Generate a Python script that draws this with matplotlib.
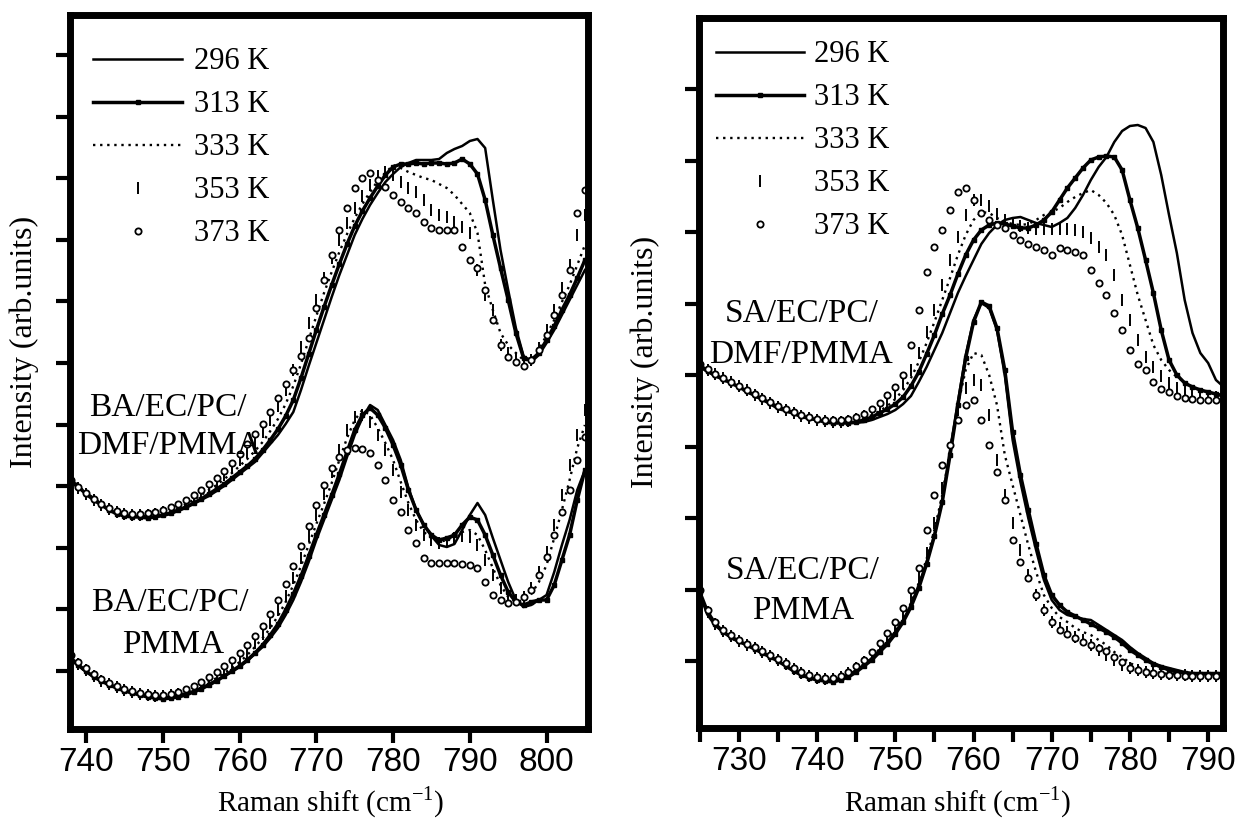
import numpy as np
import matplotlib
matplotlib.use("Agg")
import matplotlib.pyplot as plt
from matplotlib.lines import Line2D
from matplotlib.ticker import MultipleLocator, FixedLocator, NullFormatter

# ---------------- data ----------------
temps = ["296 K", "313 K", "333 K", "353 K", "373 K"]

# Left panel: Raman shift grid (cm-1)
x_left = list(range(738, 806))

# BA/EC/PC/DMF/PMMA (upper curve, left panel)
ba_dmf_296 = [318, 312, 307, 302, 296, 290, 287, 285, 284, 283, 283, 283, 284, 286, 289, 292, 296, 300, 304, 309,
              314, 320, 326, 332, 338, 347, 356, 365, 376, 388, 410, 434, 457, 480, 503, 525, 545, 565, 581, 595,
              607, 618, 626, 633, 637, 640, 640, 640, 641, 647, 651, 654, 659, 661, 652, 600, 550, 510, 472, 444,
              438, 445, 457, 470, 485, 500, 515, 530]
ba_dmf_313 = [320, 313, 306, 300, 295, 290, 286, 284, 283, 283, 282, 283, 285, 287, 290, 293, 297, 301, 306, 311,
              316, 322, 328, 334, 341, 350, 360, 371, 384, 400, 422, 446, 470, 493, 515, 536, 556, 574, 589, 602,
              614, 625, 633, 636, 636, 637, 636, 637, 637, 636, 637, 641, 636, 626, 600, 565, 532, 500, 467, 442,
              440, 447, 460, 474, 490, 505, 522, 540]
ba_dmf_333 = [322, 314, 307, 301, 295, 291, 287, 285, 284, 284, 284, 285, 287, 289, 292, 296, 300, 305, 310, 315,
              321, 327, 334, 341, 349, 358, 369, 381, 396, 414, 436, 460, 484, 507, 528, 548, 566, 582, 596, 608,
              619, 627, 635, 632, 628, 625, 622, 620, 616, 612, 605, 596, 587, 567, 515, 490, 467, 455, 447, 440,
              440, 450, 465, 480, 498, 515, 535, 555]
ba_dmf_353 = [318, 312, 306, 300, 295, 291, 288, 286, 285, 285, 285, 286, 288, 290, 293, 297, 302, 307, 312, 318,
              325, 332, 340, 348, 357, 368, 380, 394, 410, 430, 453, 477, 500, 522, 542, 560, 577, 592, 604, 615,
              624, 628, 625, 618, 612, 608, 600, 590, 585, 583, 578, 573, 567, 530, 505, 490, 455, 447, 442, 438,
              440, 452, 470, 490, 512, 535, 565, 585]
ba_dmf_373 = [320, 313, 307, 301, 296, 292, 289, 287, 286, 286, 287, 288, 290, 293, 296, 300, 305, 310, 316, 322,
              329, 337, 346, 356, 366, 376, 388, 402, 416, 430, 444, 462, 492, 520, 545, 570, 592, 612, 622, 627,
              620, 613, 605, 598, 592, 587, 578, 572, 570, 570, 570, 553, 540, 532, 510, 480, 455, 443, 438, 434,
              440, 450, 465, 485, 505, 530, 587, 610]

# BA/EC/PC/PMMA (lower curve, left panel)
ba_pmma_296 = [140, 134, 128, 123, 119, 116, 113, 110, 108, 106, 105, 104, 103, 103, 104, 106, 109, 112, 116, 120,
               124, 128, 133, 139, 146, 153, 162, 172, 185, 200, 218, 238, 260, 280, 300, 320, 343, 365, 382, 395,
               390, 375, 360, 340, 312, 290, 275, 264, 255, 253, 256, 270, 285, 297, 285, 262, 240, 218, 200, 193,
               195, 200, 205, 228, 255, 280, 310, 330]
ba_pmma_313 = [142, 135, 129, 123, 119, 115, 112, 109, 107, 105, 103, 102, 101, 102, 103, 105, 108, 111, 115, 119,
               124, 129, 134, 140, 147, 155, 165, 176, 190, 206, 224, 244, 265, 285, 305, 326, 348, 370, 385, 392,
               385, 372, 355, 335, 310, 290, 275, 265, 260, 262, 265, 275, 283, 280, 265, 245, 225, 208, 198, 195,
               198, 200, 200, 215, 240, 265, 300, 330]
ba_pmma_333 = [140, 134, 128, 123, 119, 115, 112, 110, 108, 106, 105, 104, 104, 104, 105, 107, 110, 114, 118, 122,
               127, 132, 138, 145, 153, 162, 172, 184, 198, 215, 234, 255, 276, 296, 317, 340, 362, 380, 390, 385,
               372, 357, 340, 318, 297, 280, 268, 262, 258, 260, 264, 268, 270, 265, 250, 232, 215, 203, 198, 200,
               206, 218, 235, 262, 290, 320, 352, 375]
ba_pmma_353 = [142, 136, 130, 124, 119, 116, 113, 110, 108, 106, 105, 104, 104, 105, 106, 108, 111, 115, 119, 124,
               129, 135, 141, 148, 157, 166, 177, 190, 204, 222, 242, 264, 285, 306, 328, 350, 370, 383, 385, 378,
               365, 350, 330, 308, 290, 275, 265, 260, 257, 258, 262, 264, 263, 255, 240, 225, 212, 203, 200, 203,
               212, 228, 248, 275, 305, 335, 365, 390]
ba_pmma_373 = [145, 138, 132, 126, 121, 117, 114, 111, 109, 107, 106, 105, 105, 106, 108, 111, 114, 118, 123, 128,
               134, 140, 147, 155, 164, 174, 186, 200, 216, 234, 254, 274, 295, 315, 332, 343, 350, 352, 351, 347,
               335, 320, 300, 288, 270, 257, 242, 237, 237, 237, 237, 236, 235, 232, 218, 205, 200, 197, 198, 203,
               210, 225, 243, 265, 288, 310, 340, 363]

# Right panel: Raman shift grid (cm-1)
x_right = list(range(725, 793))

# SA/EC/PC/DMF/PMMA (upper curve, right panel)
sa_dmf_296 = [433, 428, 424, 420, 417, 413, 409, 404, 400, 396, 391, 389, 386, 383, 381, 380, 379, 378, 377, 377,
              377, 378, 380, 383, 386, 390, 396, 404, 418, 433, 450, 467, 487, 507, 524, 540, 556, 567, 575, 580,
              582, 583, 580, 577, 575, 573, 577, 582, 592, 605, 620, 633, 643, 658, 669, 674, 675, 672, 658, 625,
              585, 547, 500, 467, 447, 437, 420, 413]
sa_dmf_313 = [435, 429, 425, 421, 417, 413, 409, 405, 401, 397, 393, 390, 387, 384, 382, 380, 378, 377, 377, 377,
              378, 380, 383, 387, 391, 396, 403, 414, 428, 446, 465, 486, 505, 526, 545, 560, 570, 575, 577, 576,
              574, 572, 572, 575, 580, 588, 600, 612, 622, 632, 640, 643, 644, 643, 630, 600, 572, 540, 507, 470,
              440, 425, 417, 413, 410, 408, 406, 404]
sa_dmf_333 = [434, 428, 424, 420, 416, 412, 408, 404, 400, 396, 392, 389, 386, 384, 382, 380, 378, 377, 377, 378,
              379, 381, 385, 389, 394, 401, 410, 422, 438, 457, 478, 500, 522, 545, 565, 580, 588, 587, 582, 578,
              576, 575, 576, 580, 585, 588, 592, 598, 603, 607, 610, 605, 597, 585, 565, 535, 505, 480, 455, 440,
              430, 423, 418, 413, 410, 408, 406, 404]
sa_dmf_353 = [436, 430, 426, 422, 418, 414, 410, 405, 401, 397, 393, 390, 387, 384, 382, 380, 379, 378, 378, 379,
              381, 384, 388, 393, 399, 407, 417, 430, 447, 468, 490, 515, 540, 563, 585, 600, 600, 594, 586, 580,
              577, 574, 572, 571, 571, 571, 571, 571, 570, 568, 562, 553, 545, 525, 500, 480, 460, 443, 433, 424,
              417, 412, 409, 407, 405, 404, 403, 402]
sa_dmf_373 = [436, 431, 426, 422, 418, 414, 410, 406, 402, 398, 394, 391, 388, 385, 383, 381, 380, 380, 380, 381,
              383, 386, 391, 397, 405, 413, 425, 455, 490, 528, 553, 570, 590, 608, 612, 600, 587, 580, 575, 572,
              565, 560, 556, 553, 550, 545, 552, 550, 548, 545, 530, 517, 505, 487, 470, 450, 436, 430, 418, 411,
              408, 404, 402, 401, 400, 400, 400, 400]

# SA/EC/PC/PMMA (lower curve, right panel)
sa_pmma_296 = [205, 185, 174, 168, 162, 158, 155, 151, 148, 144, 139, 134, 130, 126, 123, 121, 120, 120, 122, 125,
               130, 135, 142, 150, 158, 168, 180, 195, 215, 238, 265, 300, 350, 398, 445, 480, 497, 492, 470, 425,
               360, 318, 282, 250, 220, 200, 190, 185, 183, 181, 180, 175, 170, 165, 160, 153, 147, 142, 137, 134,
               132, 130, 128, 127, 127, 127, 127, 127]
sa_pmma_313 = [208, 188, 176, 168, 163, 159, 155, 151, 147, 143, 139, 134, 129, 125, 122, 120, 119, 118, 120, 123,
               128, 134, 140, 148, 156, 166, 178, 193, 212, 236, 264, 298, 345, 395, 442, 478, 498, 494, 472, 430,
               368, 325, 290, 256, 225, 205, 195, 188, 184, 180, 176, 172, 168, 163, 157, 150, 145, 140, 136, 133,
               130, 128, 127, 126, 126, 126, 126, 126]
sa_pmma_333 = [205, 186, 175, 168, 162, 158, 155, 151, 147, 143, 139, 134, 130, 126, 123, 121, 120, 120, 122, 125,
               130, 136, 143, 151, 160, 170, 182, 197, 217, 241, 270, 305, 350, 395, 430, 447, 445, 425, 395, 345,
               315, 285, 255, 228, 205, 192, 183, 178, 172, 168, 165, 160, 155, 148, 143, 137, 133, 130, 128, 127,
               126, 126, 126, 125, 125, 125, 125, 125]
sa_pmma_353 = [207, 188, 176, 169, 164, 159, 155, 152, 148, 144, 140, 136, 131, 127, 124, 122, 121, 121, 123, 127,
               132, 138, 145, 153, 162, 173, 186, 202, 222, 247, 277, 312, 352, 390, 412, 420, 415, 385, 340, 305,
               277, 250, 225, 205, 190, 178, 172, 168, 163, 160, 155, 150, 145, 140, 135, 132, 130, 128, 127, 126,
               126, 125, 125, 124, 124, 124, 124, 124]
sa_pmma_373 = [210, 190, 178, 170, 165, 160, 156, 153, 149, 145, 141, 137, 132, 128, 125, 123, 122, 122, 124, 128,
               134, 140, 148, 157, 167, 178, 192, 210, 232, 270, 305, 335, 355, 380, 395, 400, 380, 355, 328, 300,
               260, 238, 222, 205, 190, 178, 170, 166, 162, 158, 155, 152, 149, 143, 138, 132, 130, 128, 127, 126,
               125, 125, 124, 124, 124, 124, 124, 124]

left_series = [
    [ba_dmf_296, ba_dmf_313, ba_dmf_333, ba_dmf_353, ba_dmf_373],
    [ba_pmma_296, ba_pmma_313, ba_pmma_333, ba_pmma_353, ba_pmma_373],
]
right_series = [
    [sa_dmf_296, sa_dmf_313, sa_dmf_333, sa_dmf_353, sa_dmf_373],
    [sa_pmma_296, sa_pmma_313, sa_pmma_333, sa_pmma_353, sa_pmma_373],
]
left_xticks = [740, 750, 760, 770, 780, 790, 800]
right_xticks = [730, 740, 750, 760, 770, 780, 790]

# ---------------- style ----------------
W, H = 1241, 823
SERIF = ["Liberation Serif", "DejaVu Serif"]
SANS = ["Liberation Sans", "DejaVu Sans"]
styles = [
    dict(color="black", lw=1.8, ls="-"),
    dict(color="black", lw=2.5, ls="-", marker="s", ms=3.4, mfc="black", mec="black"),
    dict(color="black", lw=1.7, ls=(0, (1, 2))),
    dict(color="black", lw=0, ls="none", marker="|", ms=9, mew=1.4),
    dict(color="black", lw=0, ls="none", marker="o", ms=4.5, mfc="white", mec="black", mew=1.3),
]

fig = plt.figure(figsize=(W / 100, H / 100), dpi=100)


def fx(x):
    return x / W


def fy(y):
    return 1 - y / H


def px_axes(l, t, r, b):
    return fig.add_axes([fx(l), fy(b), (r - l) / W, (b - t) / H])


def ftext(x, y, s, **kw):
    fig.text(fx(x), fy(y), s, **kw)


def setup(ax, xlim, ylim, xticks, yticks, minor5):
    ax.set_xlim(*xlim)
    ax.set_ylim(*ylim)
    for sp in ax.spines.values():
        sp.set_linewidth(5)
    ax.xaxis.set_major_locator(FixedLocator(xticks))
    if minor5:
        ax.xaxis.set_minor_locator(MultipleLocator(5))
    ax.yaxis.set_major_locator(FixedLocator(yticks))
    ax.yaxis.set_major_formatter(NullFormatter())
    ax.tick_params(axis="both", which="both", direction="out", length=10, width=3,
                   top=False, right=False)
    ax.tick_params(axis="x", pad=3, labelsize=24)
    for lab in ax.get_xticklabels():
        lab.set_family(SANS)


def draw_legend(x0, x1, xt, rows):
    xm = (x0 + x1) / 2
    for i, y in enumerate(rows):
        st = dict(styles[i])
        if i in (0, 1, 2):
            ln = Line2D([fx(x0), fx(xm), fx(x1)], [fy(y)] * 3, transform=fig.transFigure, **st)
            if i == 1:
                ln.set_markevery([1])
        else:
            ln = Line2D([fx(xm)], [fy(y)], transform=fig.transFigure, **st)
        fig.add_artist(ln)
        ftext(xt, y + 10, temps[i], ha="left", va="baseline", fontsize=22, family=SERIF)


axL = px_axes(70, 15, 588, 729)
axR = px_axes(699, 18, 1223, 728)

setup(axL, (737.9, 805.4), (71, 785), left_xticks, list(np.linspace(129, 745, 11)), False)
setup(axR, (724.9, 791.9), (72, 782), right_xticks, list(np.linspace(139, 711, 9)), True)

for ax, xs, groups in [(axL, x_left, left_series), (axR, x_right, right_series)]:
    for group in groups:
        for i, ys in enumerate(group):
            ax.plot(xs, ys, **styles[i])

draw_legend(93, 182, 194, [59, 102, 145, 188, 231])
draw_legend(716, 804, 814, [52, 95, 138, 181, 224])

# panel annotations
for (x, y, s) in [(168, 408, "BA/EC/PC/"), (169, 446, "DMF/PMMA"),
                  (170, 603, "BA/EC/PC/"), (173, 645, "PMMA"),
                  (802, 314, "SA/EC/PC/"), (801, 355, "DMF/PMMA"),
                  (803, 571, "SA/EC/PC/"), (803, 611, "PMMA")]:
    ftext(x, y, s, ha="center", va="center", fontsize=24, family=SERIF)

# axis labels
for x in (331, 958):
    ftext(x, 802, "Raman shift (cm$^{\\mathregular{-1}}$)", ha="center", va="center",
          fontsize=21, family=SERIF)
ftext(24, 342, "Intensity (arb.units)", ha="center", va="center", rotation=90,
      fontsize=23, family=SERIF)
ftext(645, 362, "Intensity (arb.units)", ha="center", va="center", rotation=90,
      fontsize=23, family=SERIF)

fig.savefig("out.png", dpi=100)
